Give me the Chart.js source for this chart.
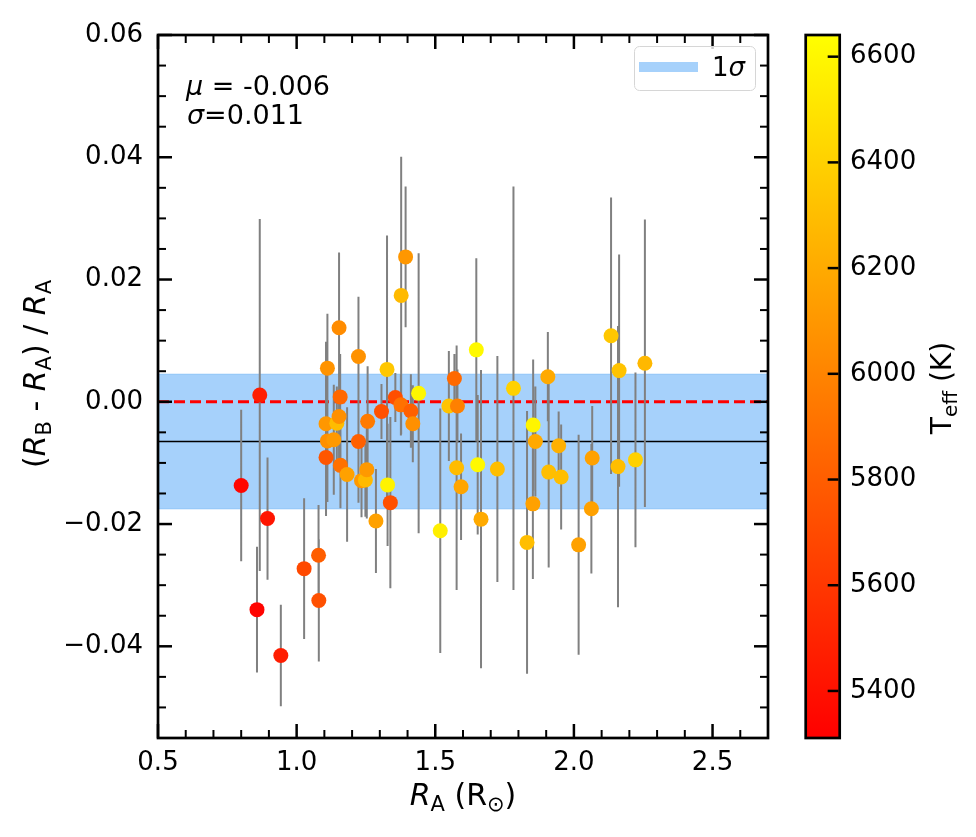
<!DOCTYPE html>
<html>
<head>
<meta charset="utf-8">
<script src="https://cdn.jsdelivr.net/npm/chart.js@4.4.0/dist/chart.umd.min.js"></script>
<style>
  html, body { margin: 0; padding: 0; background: #fff; }
</style>
</head>
<body>
<canvas id="chart" width="976" height="837"></canvas>
<script>
// R_A of the primary star (R_sun)
const radiusA = [0.800, 0.867, 0.857, 0.895, 0.943, 1.027, 1.079, 1.080, 1.106, 1.106,
                 1.111, 1.111, 1.134, 1.145, 1.153, 1.153, 1.157, 1.158, 1.182, 1.223,
                 1.223, 1.234, 1.248, 1.253, 1.256, 1.286, 1.306, 1.326, 1.328, 1.338,
                 1.356, 1.376, 1.377, 1.393, 1.412, 1.419, 1.440, 1.518, 1.549, 1.569,
                 1.580, 1.577, 1.593, 1.648, 1.653, 1.665, 1.724, 1.782, 1.831, 1.852,
                 1.853, 1.861, 1.906, 1.909, 1.945, 1.954, 2.017, 2.066, 2.063, 2.134,
                 2.159, 2.163, 2.222, 2.256];
// (R_B - R_A) / R_A
const relDiff = [-0.0137, 0.0011, -0.0340, -0.0191, -0.0415, -0.0273, -0.0251, -0.0325, -0.0091, -0.0036,
                 0.0055, -0.0064, -0.0062, -0.0035, -0.0024, 0.0121, 0.0008, -0.0104, -0.0119, 0.0074,
                 -0.0065, -0.0129, -0.0128, -0.0111, -0.0032, -0.0195, -0.0016, 0.0053, -0.0136, -0.0165,
                 0.0007, -0.0005, 0.0174, 0.0237, -0.0015, -0.0036, 0.0014, -0.0211, -0.0007, 0.0038,
                 -0.0007, -0.0108, -0.0139, 0.0085, -0.0103, -0.0192, -0.0110, 0.0022, -0.0230, -0.0167,
                 -0.0038, -0.0065, 0.0041, -0.0115, -0.0072, -0.0123, -0.0234, -0.0092, -0.0175, 0.0108,
                 -0.0106, 0.0051, -0.0095, 0.0063];
const relErr = [0.0124, 0.0288, 0.0103, 0.0100, 0.0083, 0.0115, 0.0082, 0.0100, 0.0096, 0.0134,
                0.0089, 0.0100, 0.0090, 0.0060, 0.0080, 0.0123, 0.0070, 0.0070, 0.0110, 0.0098,
                0.0100, 0.0060, 0.0060, 0.0080, 0.0090, 0.0085, 0.0045, 0.0219, 0.0100, 0.0140,
                0.0040, 0.0050, 0.0227, 0.0115, 0.0060, 0.0063, 0.0229, 0.0200, 0.0090, 0.0040,
                0.0060, 0.0200, 0.0087, 0.0150, 0.0114, 0.0244, 0.0185, 0.0330, 0.0215, 0.0123,
                0.0107, 0.0090, 0.0073, 0.0156, 0.0056, 0.0086, 0.0180, 0.0085, 0.0106, 0.0226,
                0.0230, 0.0190, 0.0143, 0.0235];
const teff = [5340, 5460, 5330, 5420, 5460, 5690, 5800, 5730, 5760, 6100,
              6080, 6060, 6110, 6290, 6060, 6040, 5850, 5900, 6150, 6070,
              5810, 6110, 6280, 6110, 5950, 6150, 5730, 6350, 6580, 5730,
              5720, 5900, 6280, 6100, 5810, 6060, 6600, 6560, 6330, 5860,
              5980, 6290, 6170, 6610, 6610, 6200, 6300, 6400, 6300, 6150,
              6590, 6190, 6200, 6300, 6230, 6300, 6150, 6150, 6150, 6350,
              6300, 6330, 6400, 6270];

const xTicks = [0.5, 1.0, 1.5, 2.0, 2.5];
const yTicks = [-0.04, -0.02, 0.00, 0.02, 0.04, 0.06];
const teffTicks = [5400, 5600, 5800, 6000, 6200, 6400, 6600];
const meanDiff = -0.0065;
const sigmaDiff = 0.011;
const teffMin = 5311, teffMax = 6641;

const FONT = '"DejaVu Sans"';
const reg = s => `${s}px ${FONT}`;
const ital = s => `italic ${s}px ${FONT}`;
const bandColor = '#a6d1fb';

// matplotlib "autumn": red -> yellow
function autumn(t) {
  t = Math.max(0, Math.min(1, t));
  return `rgb(255,${Math.round(255 * t)},0)`;
}
const pointColors = teff.map(t => autumn((t - teffMin) / (teffMax - teffMin)));

const errData = [];
radiusA.forEach((x, i) => {
  errData.push({x: x, y: relDiff[i] - relErr[i]});
  errData.push({x: x, y: relDiff[i] + relErr[i]});
  errData.push({x: x, y: null});
});

function drawRich(ctx, parts, x, y, align) {
  let w = 0;
  parts.forEach(p => { ctx.font = p.f; p.w = ctx.measureText(p.t).width; w += p.w; });
  let cx = align === 'center' ? x - w / 2 : x;
  parts.forEach(p => { ctx.font = p.f; ctx.fillText(p.t, cx, y + (p.dy || 0)); cx += p.w; });
}

function tickLine(ctx, x1, y1, x2, y2, w) {
  ctx.lineWidth = w;
  ctx.beginPath(); ctx.moveTo(x1, y1); ctx.lineTo(x2, y2); ctx.stroke();
}

const decor = {
  id: 'decor',
  afterDraw(chart) {
    const {ctx, chartArea: a} = chart;
    const {x, y, cb} = chart.scales;
    ctx.save();
    ctx.strokeStyle = '#000';
    ctx.fillStyle = '#000';
    ctx.textBaseline = 'alphabetic';
    ctx.textAlign = 'left';

    // inward ticks, all four sides
    for (let k = 0; k <= 22; k++) {
      const px = x.getPixelForValue(0.5 + k * 0.1);
      const major = k % 5 === 0;
      const len = major ? 14 : 8, w = major ? 2.5 : 2;
      tickLine(ctx, px, a.bottom, px, a.bottom - len, w);
      tickLine(ctx, px, a.top, px, a.top + len, w);
    }
    for (let k = 0; k <= 23; k++) {
      const v = -0.055 + k * 0.005;
      const py = y.getPixelForValue(v);
      const major = Math.abs(Math.round(v / 0.02) * 0.02 - v) < 1e-6;
      const len = major ? 14 : 8, w = major ? 2.5 : 2;
      tickLine(ctx, a.left, py, a.left + len, py, w);
      tickLine(ctx, a.right, py, a.right - len, py, w);
    }
    ctx.lineWidth = 2.7;
    ctx.strokeRect(a.left, a.top, a.right - a.left, a.bottom - a.top);

    // colorbar
    const cbTop = cb.getPixelForValue(teffMax), cbBot = cb.getPixelForValue(teffMin);
    const cbL = 805.7, cbW = 34;
    const g = ctx.createLinearGradient(0, cbBot, 0, cbTop);
    g.addColorStop(0, autumn(0));
    g.addColorStop(1, autumn(1));
    ctx.fillStyle = g;
    ctx.fillRect(cbL, cbTop, cbW, cbBot - cbTop);
    ctx.strokeRect(cbL, cbTop, cbW, cbBot - cbTop);
    teffTicks.forEach(t => {
      const py = cb.getPixelForValue(t);
      tickLine(ctx, cbL + cbW - 1.3, py, cbL + cbW - 12, py, 2.5);
    });

    ctx.fillStyle = '#000';
    // stats text
    drawRich(ctx, [{t: 'μ', f: ital(27)}, {t: ' = -0.006', f: reg(27)}], 186, 95);
    drawRich(ctx, [{t: 'σ', f: ital(27)}, {t: '=0.011', f: reg(27)}], 187, 124);

    // legend
    ctx.beginPath();
    ctx.roundRect(634.5, 46.5, 121, 44, 5);
    ctx.fillStyle = 'rgba(255,255,255,0.8)';
    ctx.fill();
    ctx.lineWidth = 1;
    ctx.strokeStyle = '#d6d6d6';
    ctx.stroke();
    ctx.strokeStyle = bandColor;
    tickLine(ctx, 639, 67, 698, 67, 10);
    ctx.fillStyle = '#000';
    drawRich(ctx, [{t: '1', f: reg(26)}, {t: 'σ', f: ital(26)}], 712, 76);

    // x title
    drawRich(ctx, [
      {t: 'R', f: ital(30)}, {t: 'A', f: reg(21), dy: 6},
      {t: ' (R', f: reg(30)}, {t: '⊙', f: reg(21), dy: 6}, {t: ')', f: reg(30)}
    ], (a.left + a.right) / 2, 805, 'center');

    // y title
    ctx.save();
    ctx.translate(45, 374);
    ctx.rotate(-Math.PI / 2);
    drawRich(ctx, [
      {t: '(', f: reg(30)}, {t: 'R', f: ital(30)}, {t: 'B', f: reg(21), dy: 6},
      {t: ' - ', f: reg(30)}, {t: 'R', f: ital(30)}, {t: 'A', f: reg(21), dy: 6},
      {t: ') / ', f: reg(30)}, {t: 'R', f: ital(30)}, {t: 'A', f: reg(21), dy: 6}
    ], 0, 0, 'center');
    ctx.restore();

    // colorbar title
    ctx.save();
    ctx.translate(951, 388);
    ctx.rotate(-Math.PI / 2);
    drawRich(ctx, [
      {t: 'T', f: reg(28)}, {t: 'eff', f: reg(20), dy: 6}, {t: ' (K)', f: reg(28)}
    ], 0, 0, 'center');
    ctx.restore();

    ctx.restore();
  }
};

Chart.defaults.font.family = FONT;
Chart.defaults.color = '#000';

const fmtY = v => {
  const s = Math.abs(v).toFixed(2);
  return v < -1e-9 ? '\u2212' + s : s;
};

// keep tick-label overhang from pushing the plot area around
const noPad = s => { s.paddingTop = 0; s.paddingBottom = 0; };

new Chart(document.getElementById('chart'), {
  type: 'scatter',
  data: {
    datasets: [
      {
        label: 'stars',
        data: radiusA.map((x, i) => ({x: x, y: relDiff[i]})),
        pointRadius: 7.5,
        pointHoverRadius: 7.5,
        pointBackgroundColor: pointColors,
        pointBorderWidth: 0,
        order: 0
      },
      {
        label: 'errors',
        data: errData,
        showLine: true,
        spanGaps: false,
        pointRadius: 0,
        borderColor: '#808080',
        borderWidth: 2,
        order: 1
      },
      {
        label: 'zero',
        data: [{x: 0.5, y: 0}, {x: 2.7, y: 0}],
        showLine: true,
        pointRadius: 0,
        borderColor: '#ff0000',
        borderWidth: 3,
        borderDash: [11, 5],
        order: 2
      },
      {
        label: 'mean',
        data: [{x: 0.5, y: meanDiff}, {x: 2.7, y: meanDiff}],
        showLine: true,
        pointRadius: 0,
        borderColor: '#000',
        borderWidth: 1.6,
        order: 2
      },
      {
        label: '1σ top',
        data: [{x: 0.5, y: meanDiff + sigmaDiff}, {x: 2.7, y: meanDiff + sigmaDiff}],
        showLine: true,
        pointRadius: 0,
        borderColor: '#8ec4f8',
        borderWidth: 1,
        order: 3
      },
      {
        label: '1σ',
        data: [{x: 0.5, y: meanDiff - sigmaDiff}, {x: 2.7, y: meanDiff - sigmaDiff}],
        showLine: true,
        pointRadius: 0,
        borderColor: '#8ec4f8',
        borderWidth: 1,
        backgroundColor: bandColor,
        fill: {value: meanDiff + sigmaDiff},
        order: 4
      }
    ]
  },
  options: {
    responsive: false,
    animation: false,
    devicePixelRatio: 1,
    layout: {padding: {left: 0, right: 0, top: 35, bottom: 0}},
    plugins: {legend: {display: false}, tooltip: {enabled: false}},
    scales: {
      x: {
        type: 'linear',
        min: 0.5, max: 2.7,
        afterBuildTicks: s => { s.ticks = xTicks.map(v => ({value: v})); },
        afterFit: s => { s.height = 99; s.paddingLeft = 0; s.paddingRight = 0; },
        ticks: {font: {size: 26}, padding: 10, maxRotation: 0, callback: v => v.toFixed(1)},
        grid: {display: false, drawTicks: false},
        border: {display: false}
      },
      y: {
        type: 'linear',
        min: -0.055, max: 0.06,
        afterBuildTicks: s => { s.ticks = yTicks.map(v => ({value: v})); },
        afterFit: s => { s.width = 158; noPad(s); },
        ticks: {font: {size: 26}, padding: 15, callback: fmtY},
        grid: {display: false, drawTicks: false},
        border: {display: false}
      },
      cb: {
        type: 'linear',
        axis: 'y',
        position: 'right',
        min: teffMin, max: teffMax,
        afterBuildTicks: s => { s.ticks = teffTicks.map(v => ({value: v})); },
        afterFit: s => { s.width = 208; noPad(s); },
        ticks: {font: {size: 26}, padding: 82, callback: v => String(v)},
        grid: {display: false, drawTicks: false},
        border: {display: false}
      }
    }
  },
  plugins: [decor]
});
</script>
</body>
</html>
